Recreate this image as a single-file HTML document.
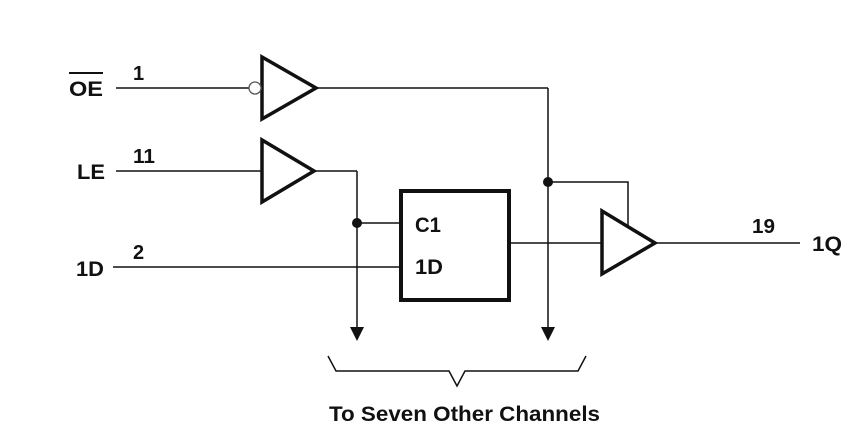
<!DOCTYPE html>
<html><head><style>body{margin:0;background:#fff}svg{display:block}text{font-family:"Liberation Sans",sans-serif;font-weight:bold;fill:#111}</style></head><body>
<svg width="863" height="447" viewBox="0 0 863 447">
<g stroke="#111" fill="none" stroke-width="1.5">
<line x1="116" y1="88" x2="249" y2="88"/>
<line x1="316" y1="88" x2="548" y2="88"/>
<line x1="548" y1="88" x2="548" y2="328"/>
<line x1="116" y1="171" x2="262" y2="171"/>
<line x1="314" y1="171" x2="357" y2="171"/>
<line x1="357" y1="171" x2="357" y2="328"/>
<line x1="357" y1="223" x2="400" y2="223"/>
<line x1="113" y1="267" x2="400" y2="267"/>
<line x1="509" y1="243" x2="602" y2="243"/>
<line x1="655" y1="243" x2="800" y2="243"/>
<polyline points="548,182 628,182 628,227"/>
<polyline points="328,356 336,371 449,371 457,386 465,371 578,371 586,356"/>
</g>
<g stroke="#111" fill="none" stroke-width="3.5" stroke-linejoin="miter">
<polygon points="262,57 262,119 316,88"/>
<polygon points="262,140 262,202 314,171"/>
<polygon points="602,211 602,274 655,243"/>
<rect x="401" y="191" width="108" height="109" stroke-width="4"/>
</g>
<circle cx="255" cy="88" r="6" fill="#fff" stroke="#555" stroke-width="1.3"/>
<circle cx="357" cy="223" r="5" fill="#111"/>
<circle cx="548" cy="182" r="5" fill="#111"/>
<polygon points="350,327 364,327 357,341" fill="#111"/>
<polygon points="541,327 555,327 548,341" fill="#111"/>
<text x="69" y="96" font-size="21" textLength="34" lengthAdjust="spacingAndGlyphs">OE</text>
<line x1="69" y1="73" x2="103" y2="73" stroke="#111" stroke-width="2"/>
<text x="133" y="80" font-size="20">1</text>
<text x="77" y="179" font-size="21" textLength="28" lengthAdjust="spacingAndGlyphs">LE</text>
<text x="133" y="163" font-size="20" textLength="22" lengthAdjust="spacingAndGlyphs">11</text>
<text x="76" y="276" font-size="21" textLength="28" lengthAdjust="spacingAndGlyphs">1D</text>
<text x="133" y="259" font-size="20">2</text>
<text x="415" y="232" font-size="21" textLength="26" lengthAdjust="spacingAndGlyphs">C1</text>
<text x="415" y="274" font-size="21" textLength="28" lengthAdjust="spacingAndGlyphs">1D</text>
<text x="752" y="233" font-size="20" textLength="23" lengthAdjust="spacingAndGlyphs">19</text>
<text x="812" y="251" font-size="21" textLength="30" lengthAdjust="spacingAndGlyphs">1Q</text>
<text x="329" y="421" font-size="21" textLength="271" lengthAdjust="spacingAndGlyphs">To Seven Other Channels</text>
</svg>
</body></html>
